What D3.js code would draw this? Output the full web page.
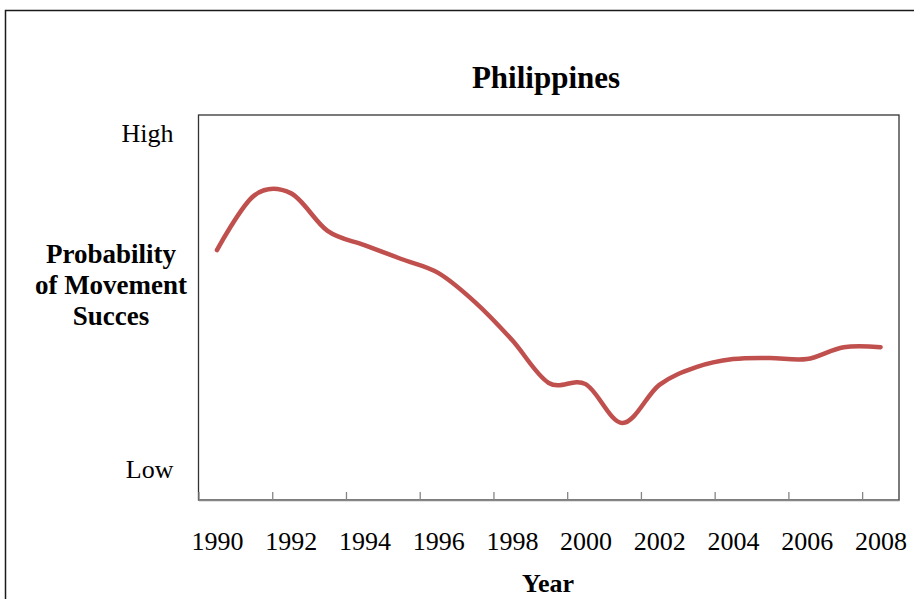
<!DOCTYPE html>
<html>
<head>
<meta charset="utf-8">
<script src="https://cdn.jsdelivr.net/npm/d3@7"></script>
<style>
  body { margin: 0; background: #fff; }
  svg { display: block; }
  text { font-family: "Liberation Serif", "Times New Roman", serif; fill: #000; }
</style>
</head>
<body>
<div id="chart"></div>
<script>
// yearly values (0 = low, 1 = high)
var years = [1990, 1991, 1992, 1993, 1994, 1995, 1996, 1997, 1998, 1999,
             2000, 2001, 2002, 2003, 2004, 2005, 2006, 2007, 2008];
var values = [0.649, 0.790, 0.797, 0.699, 0.662, 0.626, 0.590, 0.514, 0.416, 0.304,
              0.301, 0.200, 0.299, 0.345, 0.366, 0.369, 0.366, 0.397, 0.397];
var tickYears = [1990, 1992, 1994, 1996, 1998, 2000, 2002, 2004, 2006, 2008];
var yLabels = ["Low", "High"];
var yLabelValues = [0.08, 0.953];
var yTitle = ["Probability", "of Movement", "Succes"];

var w = 914, h = 599;
var pLeft = 198.5, pRight = 899, pTop = 115, pBottom = 500;

var svg = d3.select("#chart").append("svg")
    .attr("width", w)
    .attr("height", h);

// outer frame
svg.append("rect")
    .attr("x", 5.5).attr("y", 10.5)
    .attr("width", 930).attr("height", 620)
    .attr("fill", "none")
    .attr("stroke", "#1a1a1a")
    .attr("stroke-width", 1.5);

var x = d3.scaleLinear().domain([1990, 2009]).range([pLeft, pRight]);
var y = d3.scaleLinear().domain([0, 1]).range([pBottom, pTop]);

// plot area border
svg.append("rect")
    .attr("x", pLeft).attr("y", pTop)
    .attr("width", pRight - pLeft).attr("height", pBottom - pTop)
    .attr("fill", "none")
    .attr("stroke", "#333")
    .attr("stroke-width", 1.3);

// x axis ticks at category boundaries
svg.append("g")
    .attr("transform", "translate(0," + pBottom + ")")
    .call(d3.axisBottom(x).tickValues(tickYears).tickSizeInner(-8).tickSizeOuter(0).tickFormat(""))
    .call(function(g) {
        g.select(".domain").attr("stroke", "#868686").attr("stroke-width", 1.5);
        g.selectAll(".tick line").attr("stroke", "#868686").attr("stroke-width", 1.3);
    });

// x labels at category centres
svg.append("g")
    .attr("transform", "translate(0," + pBottom + ")")
    .call(d3.axisBottom(x).tickValues(tickYears.map(function(d) { return d + 0.5; }))
        .tickSize(0).tickPadding(31.5).tickFormat(function(d) { return Math.floor(d); }))
    .call(function(g) {
        g.select(".domain").remove();
        g.selectAll("text").attr("font-size", "26px")
            .attr("font-family", "Liberation Serif, serif").attr("fill", "#000");
    });

// y labels
svg.append("g")
    .attr("transform", "translate(" + pLeft + ",0)")
    .call(d3.axisLeft(y).tickValues(yLabelValues).tickSize(0).tickPadding(25)
        .tickFormat(function(d, i) { return yLabels[i]; }))
    .call(function(g) {
        g.select(".domain").remove();
        g.selectAll("text").attr("font-size", "26px")
            .attr("font-family", "Liberation Serif, serif").attr("fill", "#000");
    });

// the line
var line = d3.line()
    .x(function(d, i) { return x(years[i] + 0.5); })
    .y(function(d) { return y(d); })
    .curve(d3.curveCardinal.tension(0));

svg.append("path")
    .datum(values)
    .attr("d", line)
    .attr("fill", "none")
    .attr("stroke", "#C0504D")
    .attr("stroke-width", 4.5)
    .attr("stroke-linecap", "round");

// title
svg.append("text")
    .attr("x", 546).attr("y", 88)
    .attr("text-anchor", "middle")
    .attr("font-size", "31px")
    .attr("font-weight", "bold")
    .text("Philippines");

// y title
svg.append("g").selectAll("text")
    .data(yTitle)
    .enter().append("text")
    .attr("x", 111)
    .attr("y", function(d, i) { return 263 + i * 31; })
    .attr("text-anchor", "middle")
    .attr("font-size", "27px")
    .attr("font-weight", "bold")
    .text(function(d) { return d; });

// x title
svg.append("text")
    .attr("x", 548).attr("y", 592)
    .attr("text-anchor", "middle")
    .attr("font-size", "26px")
    .attr("font-weight", "bold")
    .text("Year");
</script>
</body>
</html>
